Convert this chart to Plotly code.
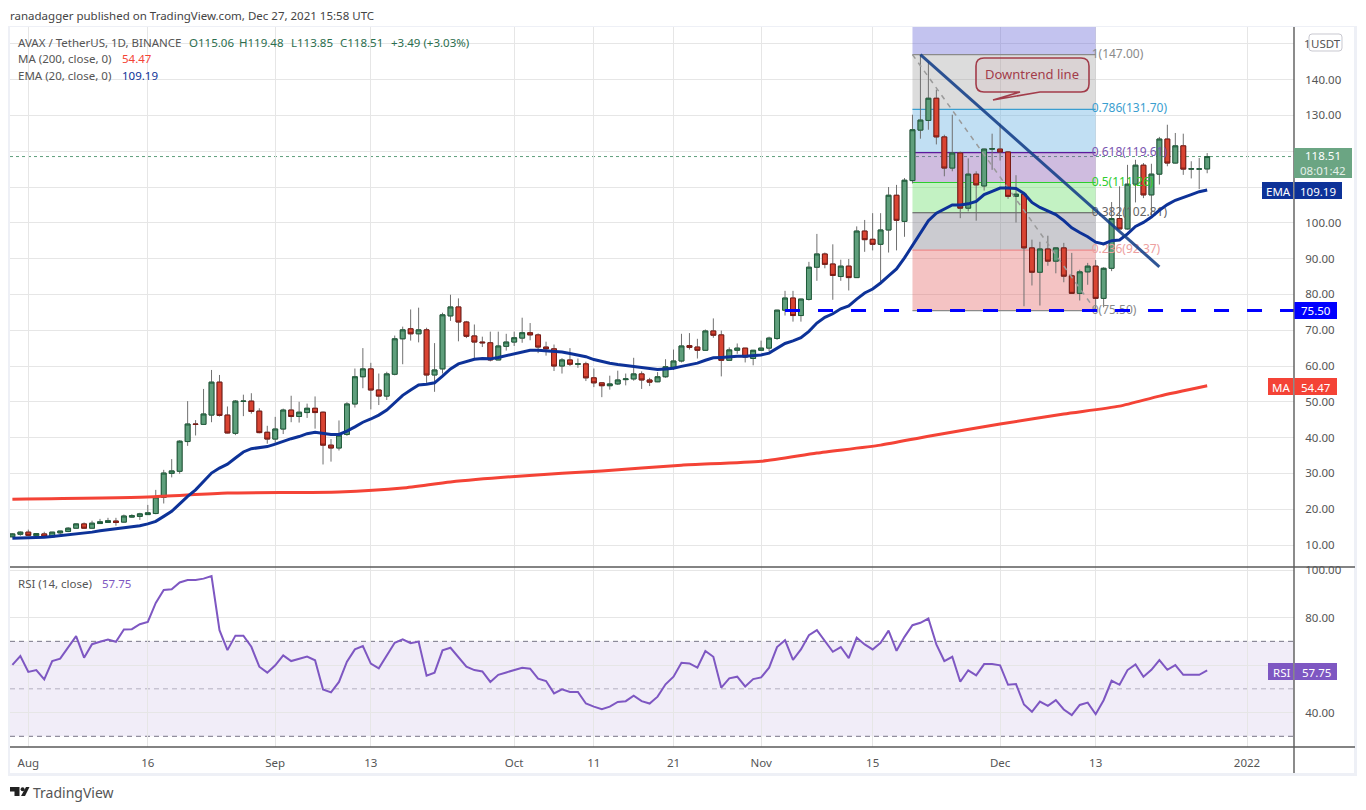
import pandas as pd
import plotly.graph_objects as go

W, H = 1366, 810
FONT = "Noto Sans"
FS = 11.5
TOP_PUSH = 5

opens = [12.3,13.0,13.6,12.6,13.1,12.3,13.4,13.8,14.7,15.9,14.7,16.0,16.3,16.7,16.4,17.8,18.0,18.5,18.8,23.3,
30.0,30.6,38.9,43.8,43.7,46.3,55.5,46.3,41.2,50.1,50.2,47.4,41.5,39.6,42.4,47.7,45.9,47.0,48.2,47.1,
37.9,37.1,40.9,49.4,57.0,59.2,53.3,51.6,57.7,67.6,70.4,69.0,70.1,57.5,59.2,74.0,76.5,72.3,68.4,66.7,
66.5,61.7,65.5,66.7,67.8,69.3,68.7,65.3,64.8,60.0,61.7,60.5,60.6,56.7,55.3,54.5,55.0,56.2,56.4,57.8,
56.1,55.6,57.0,59.7,61.4,65.7,65.3,64.4,69.8,68.7,61.6,64.4,65.0,62.1,64.4,65.0,67.7,75.6,79.0,74.1,
78.6,87.6,91.3,88.5,85.0,87.9,84.7,97.7,95.4,94.0,98.0,107.7,100.4,111.8,125.9,128.6,134.8,124.0,115.3,119.5,
104.1,113.6,110.3,120.6,120.6,119.8,107.4,108.0,93.0,86.2,92.7,89.3,93.0,85.2,80.3,86.3,87.9,78.9,87.3,101.2,
98.3,110.8,116.1,107.8,113.6,123.4,116.7,121.5,115.0,115.0,115.06]
highs = [13.3,13.8,14.3,13.3,13.7,13.6,13.9,15.0,16.0,16.3,16.8,17.3,17.6,17.6,18.5,18.6,19.0,21.2,25.4,31.0,
34.0,39.3,50.2,44.9,53.6,58.9,57.5,48.7,50.5,52.0,52.4,48.2,43.3,45.8,48.1,51.7,50.0,49.5,51.5,47.3,
39.6,44.8,49.9,59.3,65.0,60.9,57.9,58.4,68.5,71.0,75.8,76.3,70.7,66.4,74.9,79.9,78.9,72.6,71.6,68.2,
69.6,69.6,69.0,69.6,73.5,72.0,69.1,66.8,66.0,62.2,65.0,62.1,61.2,59.3,55.4,57.3,58.7,57.9,62.3,58.5,
56.7,58.3,61.9,64.6,69.0,69.2,67.6,70.2,73.3,69.9,65.2,66.3,65.0,64.5,67.1,68.2,75.7,81.0,81.0,78.8,
89.1,96.9,91.7,94.0,89.7,89.9,99.0,100.8,102.7,102.7,110.0,110.6,112.5,130.2,147.0,145.0,137.2,124.6,130.2,119.9,
118.0,114.4,120.7,124.9,127.7,120.0,113.3,108.2,95.3,94.7,96.4,93.1,94.4,91.6,86.9,88.8,89.6,87.6,105.8,110.2,
116.2,117.6,116.7,116.5,124.0,127.4,125.1,124.9,117.2,118.1,119.48]
lows = [12.2,12.6,12.7,12.5,12.3,12.2,12.8,13.6,14.6,14.6,14.6,16.0,16.2,15.4,16.3,17.6,17.0,18.4,18.6,21.6,
28.9,29.9,37.7,40.6,43.6,44.3,45.9,41.2,40.7,46.0,46.7,41.2,38.3,38.6,41.0,44.3,44.2,45.5,42.5,32.5,
33.3,36.4,40.5,48.4,53.8,47.9,49.1,50.5,57.4,60.5,67.1,66.6,55.3,52.8,57.9,72.6,66.9,67.8,62.0,65.3,
61.3,61.7,64.3,65.6,66.5,67.2,63.6,62.9,58.6,57.9,60.0,59.5,55.8,54.1,51.3,53.4,54.7,54.6,55.9,53.6,
54.4,55.5,56.7,58.9,61.0,64.6,62.1,64.3,67.9,57.1,61.6,63.4,61.0,60.2,64.2,64.2,67.3,74.1,72.4,72.4,
78.3,83.8,87.3,78.5,83.8,81.1,84.7,91.9,92.3,83.6,91.7,92.3,96.1,111.0,123.5,126.0,121.9,113.0,114.4,101.3,
103.2,100.6,109.0,114.8,117.4,106.7,100.1,76.7,82.5,76.9,88.0,85.9,83.4,80.2,78.3,82.7,75.5,76.4,86.5,98.2,
98.1,105.7,106.9,101.8,110.7,115.8,116.6,113.4,112.4,109.4,113.85]
closes = [13.1,13.6,12.7,13.2,12.3,13.6,13.9,14.7,15.9,14.7,16.1,16.5,16.8,16.3,18.1,18.2,18.7,19.0,23.4,30.1,
30.7,39.0,43.8,43.7,46.6,55.5,46.2,41.3,50.2,50.2,47.3,41.4,39.6,42.4,47.7,45.9,47.1,48.2,47.0,37.9,
37.1,40.7,49.4,57.0,59.2,53.3,51.6,57.8,67.6,70.1,69.0,70.1,57.5,58.9,74.3,76.5,72.3,68.3,66.7,66.5,
61.7,65.6,66.7,67.9,69.3,68.7,65.3,64.8,60.0,61.7,60.5,60.6,56.7,55.3,54.5,55.0,56.1,56.4,57.8,56.1,
55.5,57.0,59.8,61.4,65.6,65.2,64.4,69.8,68.6,61.6,64.5,65.0,62.5,64.4,65.0,67.8,75.6,79.0,74.1,78.7,
87.6,91.3,88.4,85.3,87.9,84.7,97.7,95.3,94.0,98.0,107.7,100.7,111.9,126.0,128.7,134.8,124.0,115.3,119.5,104.1,
113.6,110.6,120.6,120.7,119.8,107.4,108.0,93.0,86.2,92.7,89.3,93.0,85.1,80.3,86.3,87.9,78.9,87.3,101.2,98.3,
110.8,116.1,107.8,113.6,123.4,116.7,121.5,115.0,115.1,115.06,118.51]

ema20 = [11.9,11.95,12.0,12.1,12.2,12.4,12.6,12.8,13.1,13.3,13.6,14.0,14.3,14.6,14.8,15.0,15.4,15.9,16.6,18.0,
19.4,21.5,23.6,25.4,27.8,30.1,31.5,32.6,34.3,36.0,36.9,37.3,37.5,38.2,39.0,39.7,40.3,41.1,41.5,41.1,
40.9,40.9,41.8,43.0,44.3,45.2,46.3,47.7,49.7,51.8,53.3,54.7,54.9,55.3,57.2,59.2,60.6,61.3,61.9,62.1,
62.0,62.4,62.9,63.5,64.1,64.4,64.4,64.3,64.0,63.9,63.5,63.1,62.6,61.8,61.2,60.8,60.4,60.1,59.9,59.6,
59.2,59.0,59.2,59.4,59.9,60.4,60.8,61.6,62.3,62.4,62.6,62.7,62.7,62.9,63.1,63.6,65.0,66.3,67.0,67.9,
69.7,72.0,73.6,74.6,76.0,76.8,78.7,80.4,81.5,83.2,85.2,87.1,90.2,93.6,96.9,100.6,102.7,103.9,105.0,105.0,
105.3,106.0,107.9,108.8,109.7,109.7,109.6,108.2,105.7,104.3,103.2,102.3,100.6,98.6,97.3,96.1,94.6,94.1,95.0,95.2,
96.9,99.0,100.1,101.6,103.5,105.1,106.3,107.2,107.9,108.7,109.19]

rsi14 = [60.1,63.8,57.1,57.9,54.0,61.7,62.7,67.6,72.2,63.1,68.8,69.8,70.8,69.8,75.0,75.1,77.2,78.2,86.2,91.6,
91.9,94.8,95.8,95.8,96.4,97.5,74.7,66.3,72.4,72.4,67.7,59.3,56.8,59.9,64.1,61.7,62.7,63.6,62.0,49.7,
48.5,52.9,61.4,66.6,68.0,60.6,58.6,63.8,69.4,70.8,69.2,69.9,55.5,56.8,66.2,67.3,63.1,59.3,57.9,57.3,
52.9,55.9,56.9,57.8,58.9,58.5,54.3,53.3,48.1,49.8,48.7,48.7,43.8,42.5,41.4,42.5,44.5,44.8,47.1,44.8,
43.8,46.7,51.9,55.1,61.0,60.7,58.9,65.9,63.5,50.5,54.4,55.1,51.0,54.1,54.8,58.9,67.6,70.5,62.2,66.6,
72.6,74.7,70.1,65.6,67.6,62.9,71.5,68.7,66.6,69.4,74.5,66.0,71.9,76.8,77.8,79.6,68.7,61.7,63.5,53.0,
57.8,55.7,60.4,60.4,59.9,51.7,52.0,43.4,40.3,44.6,42.8,45.2,41.3,38.9,43.2,44.2,39.3,45.2,53.4,51.7,
57.9,60.3,55.1,58.0,62.1,58.0,60.0,55.9,55.9,55.9,57.75]

ma_dates = ["2021-07-30","2021-08-16","2021-08-26","2021-09-09","2021-09-17","2021-09-23","2021-10-02","2021-10-12",
            "2021-10-22","2021-11-01","2021-11-08","2021-11-16","2021-11-22","2021-12-01","2021-12-09","2021-12-16",
            "2021-12-21","2021-12-27"]
ma200 = [22.8,23.4,24.5,24.8,25.9,27.6,29.3,30.7,32.3,33.4,35.7,37.9,40.4,43.8,46.6,48.8,51.6,54.47]

dates = pd.date_range("2021-07-30", periods=len(closes), freq="D")

tick_dates = ["2021-08-01","2021-08-16","2021-09-01","2021-09-13","2021-10-01","2021-10-11","2021-10-21",
              "2021-11-01","2021-11-15","2021-12-01","2021-12-13","2022-01-01"]
tick_labels = ["Aug","16","Sep","13","Oct","11","21","Nov","15","Dec","13","2022"]
price_ticks = [10,20,30,40,50,60,70,80,90,100,110,120,130,140,150]
price_labels = ["10.00","20.00","30.00","40.00","50.00","60.00","70.00","80.00","90.00","100.00","","","130.00","140.00",""]
rsi_ticks = [40,60,80,100]
rsi_labels = ["40.00","","80.00","100.00"]

fib_start, fib_end = "2021-11-20", "2021-12-13"
fib_label_x = "2021-12-12 12:00"
fib_ratios = ["1","0.786","0.618","0.5","0.382","0.236","0"]
fib_levels = [147.00,131.70,119.61,111.26,102.81,92.37,75.50]
fib_top = 154.7
fib_line_colors = ["#8a8a8a","#3a9ed0","#5b1a9c","#2ecc2e","#555555","#f08a8a","#8a8a8a"]
fib_text_colors = ["#8a8a8a","#3a9ed0","#7a55b0","#2ecc2e","#666666","#eda0a0","#8a8a8a"]
fib_fills = ["rgba(90,90,210,0.36)","rgba(150,150,150,0.33)","rgba(100,175,225,0.40)","rgba(130,80,170,0.38)",
             "rgba(90,220,90,0.36)","rgba(110,110,125,0.36)","rgba(225,90,90,0.36)"]

trend_x, trend_y = ["2021-11-21","2021-12-21"], [147.0,87.7]
support_x, support_y = ["2021-11-04","2022-01-06 21:36"], [75.5,75.5]
last_price = 118.51

X0, X1, Y0, YM, YB = 10, 1294, 27, 567, 747


def px(x):
    return x / W


def py(y):
    return 1 - (y - TOP_PUSH) / (H - TOP_PUSH)


def ann(x, y, text, color="#555555", size=FS, anchor="left"):
    return dict(x=px(x), y=py(y), xref="paper", yref="paper", text=text, showarrow=False, xanchor=anchor,
                yanchor="middle", font=dict(color=color, size=size, family=FONT), borderpad=0, borderwidth=0)


def rect(x0, y0, x1, y1, fill, line=None, lw=0, layer="above"):
    return dict(type="rect", xref="paper", yref="paper", x0=px(x0), x1=px(x1), y0=py(y0), y1=py(y1),
                fillcolor=fill, line=dict(color=line or fill, width=lw), layer=layer)


def seg(x0, y0, x1, y1, color, w=1, layer="above"):
    return dict(type="line", xref="paper", yref="paper", x0=px(x0), x1=px(x1), y0=py(y0), y1=py(y1),
                line=dict(color=color, width=w), layer=layer)


def path(cmds, fill, line=None, lw=0):
    out = []
    for c in cmds:
        if isinstance(c, str):
            out.append(c)
        else:
            out.append(f"{px(c[0]):.5f},{py(c[1]):.5f}")
    return dict(type="path", xref="paper", yref="paper", path=" ".join(out), fillcolor=fill,
                line=dict(color=line or fill, width=lw), layer="above")


fig = go.Figure()

fig.add_trace(go.Scatter(x=[fib_label_x] * len(fib_levels), y=fib_levels, mode="text",
                         text=[f"{r}({v:.2f})" for r, v in zip(fib_ratios, fib_levels)], textposition="middle right",
                         textfont=dict(color=fib_text_colors, size=12, family=FONT), hoverinfo="skip",
                         showlegend=False, xaxis="x", yaxis="y"))
fig.add_trace(go.Scatter(x=[fib_start, fib_end], y=[fib_levels[0], fib_levels[-1]], mode="lines",
                         line=dict(color="#9a9a9a", width=1.5, dash="5px,5px"), showlegend=False, xaxis="x", yaxis="y"))
fig.add_trace(go.Scatter(x=support_x, y=support_y, mode="lines", line=dict(color="#0000ff", width=3, dash="15px,18px"),
                         showlegend=False, xaxis="x", yaxis="y"))
fig.add_trace(go.Scatter(x=ma_dates, y=ma200, mode="lines", line=dict(color="#f44336", width=3, shape="spline", smoothing=0.6),
                         showlegend=False, xaxis="x", yaxis="y"))
fig.add_trace(go.Scatter(x=dates, y=ema20, mode="lines", line=dict(color="#0d3298", width=3),
                         showlegend=False, xaxis="x", yaxis="y"))

fig.add_trace(go.Candlestick(x=dates, open=opens, high=highs, low=lows, close=closes, showlegend=False,
                             increasing=dict(line=dict(color="#707070", width=1), fillcolor="#707070"),
                             decreasing=dict(line=dict(color="#707070", width=1), fillcolor="#707070"),
                             xaxis="x", yaxis="y"))
fig.add_trace(go.Candlestick(x=dates, open=opens, close=closes,
                             high=[max(o, c) for o, c in zip(opens, closes)],
                             low=[min(o, c) for o, c in zip(opens, closes)], showlegend=False,
                             increasing=dict(line=dict(color="#1f5c3a", width=1), fillcolor="#5f9f7c"),
                             decreasing=dict(line=dict(color="#7a1a14", width=1), fillcolor="#d94432"),
                             xaxis="x", yaxis="y"))
fig.add_trace(go.Scatter(x=trend_x, y=trend_y, mode="lines", line=dict(color="rgba(18,62,135,0.88)", width=3),
                         showlegend=False, xaxis="x", yaxis="y"))
fig.add_trace(go.Scatter(x=dates, y=rsi14, mode="lines", line=dict(color="#7e57c2", width=2),
                         showlegend=False, xaxis="x2", yaxis="y2"))

shapes = []
shapes += [rect(9, 26, 1356, 27, "#eef0f6", layer="below"), rect(8, 26, 10, 776, "#eef0f6", layer="below"),
           rect(1354, 26, 1357, 776, "#eef0f6", layer="below"), rect(8, 773, 1357, 776, "#eef0f6", layer="below")]
bounds = [fib_top] + fib_levels
for i, fill in enumerate(fib_fills):
    shapes.append(dict(type="rect", xref="x", yref="y", x0=fib_start, x1=fib_end, y0=bounds[i], y1=bounds[i + 1],
                       fillcolor=fill, line=dict(width=0), layer="between"))
for lvl, col in zip(fib_levels, fib_line_colors):
    shapes.append(dict(type="line", xref="x", yref="y", x0=fib_start, x1=fib_end, y0=lvl, y1=lvl,
                       line=dict(color=col, width=1.2), layer="between"))
shapes.append(dict(type="line", xref="paper", yref="y", x0=px(X0), x1=px(X1), y0=last_price, y1=last_price,
                   line=dict(color="#5f9f7c", width=1, dash="dot"), layer="between"))
shapes.append(dict(type="rect", xref="paper", yref="y2", x0=px(X0), x1=px(X1), y0=30, y1=70,
                   fillcolor="rgba(126,87,194,0.11)", line=dict(width=0), layer="between"))
for lvl, col in [(70, "#787586"), (50, "#b4b0c0"), (30, "#787586")]:
    shapes.append(dict(type="line", xref="paper", yref="y2", x0=px(X0), x1=px(X1), y0=lvl, y1=lvl,
                       line=dict(color=col, width=1, dash="5px,4px"), layer="between"))
shapes += [seg(X1, Y0, X1, 773, "#5a5a5a", 1.4), seg(X0, YM, 1355, YM, "#5a5a5a", 1.4), seg(X0, YB, 1355, YB, "#5a5a5a", 1.4)]
shapes.append(path(["M", (984, 58), "L", (1081, 58), "Q", (1089, 58), (1089, 66), "L", (1089, 84), "Q", (1089, 92), (1081, 92),
                    "L", (1040, 92), "L", (993, 100), "L", (1020, 92), "L", (984, 92), "Q", (976, 92), (976, 84), "L", (976, 66),
                    "Q", (976, 58), (984, 58), "Z"], "rgba(200,120,130,0.08)", "#a23c4a", 1.6))
shapes += [rect(1294, 148, 1352, 178, "#6ba583"), rect(1262, 182, 1293, 199, "#0d3298"), rect(1294.5, 182, 1342, 199, "#0d3298"),
           rect(1294.5, 302, 1337, 319, "#0000ff"), rect(1268, 378, 1293, 395, "#f44336"), rect(1294.5, 378, 1337, 395, "#f44336"),
           rect(1268, 663, 1293, 680, "#7e57c2"), rect(1294.5, 663, 1337, 680, "#7e57c2")]
shapes.append(path(["M", (1312, 34), "L", (1339, 34), "Q", (1342, 34), (1342, 37), "L", (1342, 48), "Q", (1342, 51), (1339, 51),
                    "L", (1312, 51), "Q", (1309, 51), (1309, 48), "L", (1309, 37), "Q", (1309, 34), (1312, 34), "Z"],
                   "#ffffff", "#c8c8d0", 1))
shapes.append(path(["M", (10, 787), "L", (19.5, 787), "L", (19.5, 796), "L", (14.5, 796), "L", (14.5, 791.5), "L", (10, 791.5), "Z"], "#222222"))
shapes.append(dict(type="circle", xref="paper", yref="paper", x0=px(20.6), x1=px(24.6), y0=py(791.3), y1=py(787.3),
                   fillcolor="#222222", line=dict(width=0), layer="above"))
shapes.append(path(["M", (26, 787), "L", (29.5, 787), "L", (25, 796), "L", (21, 796), "Z"], "#222222"))

g = "#2b6e4e"
annotations = [
    ann(10, 15, "ranadagger published on TradingView.com, Dec 27, 2021 15:58 UTC", "#444444"),
    ann(18, 42, "AVAX / TetherUS, 1D, BINANCE"),
    ann(189, 42, "O115.06", g), ann(239, 42, "H119.48", g), ann(291, 42, "L113.85", g), ann(340, 42, "C118.51", g),
    ann(391, 42, "+3.49 (+3.03%)", g),
    ann(18, 59, "MA (200, close, 0)"), ann(122, 59, "54.47", "#f44336"),
    ann(18, 76, "EMA (20, close, 0)"), ann(122, 76, "109.19", "#0d3298"),
    ann(18, 583, "RSI (14, close)"), ann(102, 583, "57.75", "#7e57c2"),
    ann(1032, 74, "Downtrend line", "#a23c4a", 13, "center"),
    ann(1304, 43, "1"),
    ann(1325.5, 43, "USDT", "#555555", FS, "center"),
    ann(1323, 156, "118.51", "#ffffff", FS, "center"), ann(1323, 170, "08:01:42", "#e4efe8", FS, "center"),
    ann(1278, 191, "EMA", "#ffffff", FS, "center"), ann(1318, 191, "109.19", "#ffffff", FS, "center"),
    ann(1316, 311, "75.50", "#ffffff", FS, "center"),
    ann(1281, 387, "MA", "#ffffff", FS, "center"), ann(1316, 387, "54.47", "#ffffff", FS, "center"),
    ann(1281, 672, "RSI", "#ffffff", FS, "center"), ann(1316, 672, "57.75", "#ffffff", FS, "center"),
    ann(33, 792, "TradingView", "#555555", 14),
]

grid = "#e6e6e6"
x_range = ["2021-07-29 16:48", "2022-01-06 21:36"]
tf = dict(size=FS, color="#555555", family=FONT)
fig.update_layout(
    width=W, height=H, autosize=False, margin=dict(l=0, r=0, t=0, b=0), paper_bgcolor="#ffffff", plot_bgcolor="#ffffff",
    showlegend=False, boxmode="overlay", boxgap=0.22, boxgroupgap=0.22, font=dict(family=FONT, size=FS, color="#555555"),
    xaxis=dict(domain=[px(X0), px(X1)], range=x_range, type="date", anchor="y", rangeslider=dict(visible=False),
               tickmode="array", tickvals=tick_dates, ticktext=[""] * len(tick_dates), showgrid=True, gridcolor=grid,
               gridwidth=1.2, zeroline=False, showline=False, ticks=""),
    xaxis2=dict(domain=[px(X0), px(X1)], range=x_range, type="date", anchor="y2", matches="x",
                tickmode="array", tickvals=tick_dates, ticktext=tick_labels, showgrid=True, gridcolor=grid, gridwidth=1.2,
                zeroline=False, showline=False, ticks="outside", ticklen=5, tickcolor="rgba(0,0,0,0)", tickfont=tf),
    yaxis=dict(domain=[py(YM), py(Y0)], range=[3.86, 154.7], side="right", anchor="x", tickmode="array", tickvals=price_ticks,
               ticktext=price_labels, showgrid=True, gridcolor=grid, gridwidth=1.2, zeroline=False,
               ticks="outside", ticklen=8, tickcolor="rgba(0,0,0,0)", tickfont=tf),
    yaxis2=dict(domain=[py(YB), py(YM)], range=[25.5, 101.3], side="right", anchor="x2", tickmode="array", tickvals=rsi_ticks,
                ticktext=rsi_labels, showgrid=True, gridcolor=grid, gridwidth=1.2, zeroline=False,
                ticks="outside", ticklen=8, tickcolor="rgba(0,0,0,0)", tickfont=tf),
    shapes=shapes, annotations=annotations,
)

fig.write_html("out.html", config=dict(displayModeBar=False),
               post_script="document.body.style.margin='0';document.documentElement.style.overflow='hidden';")
